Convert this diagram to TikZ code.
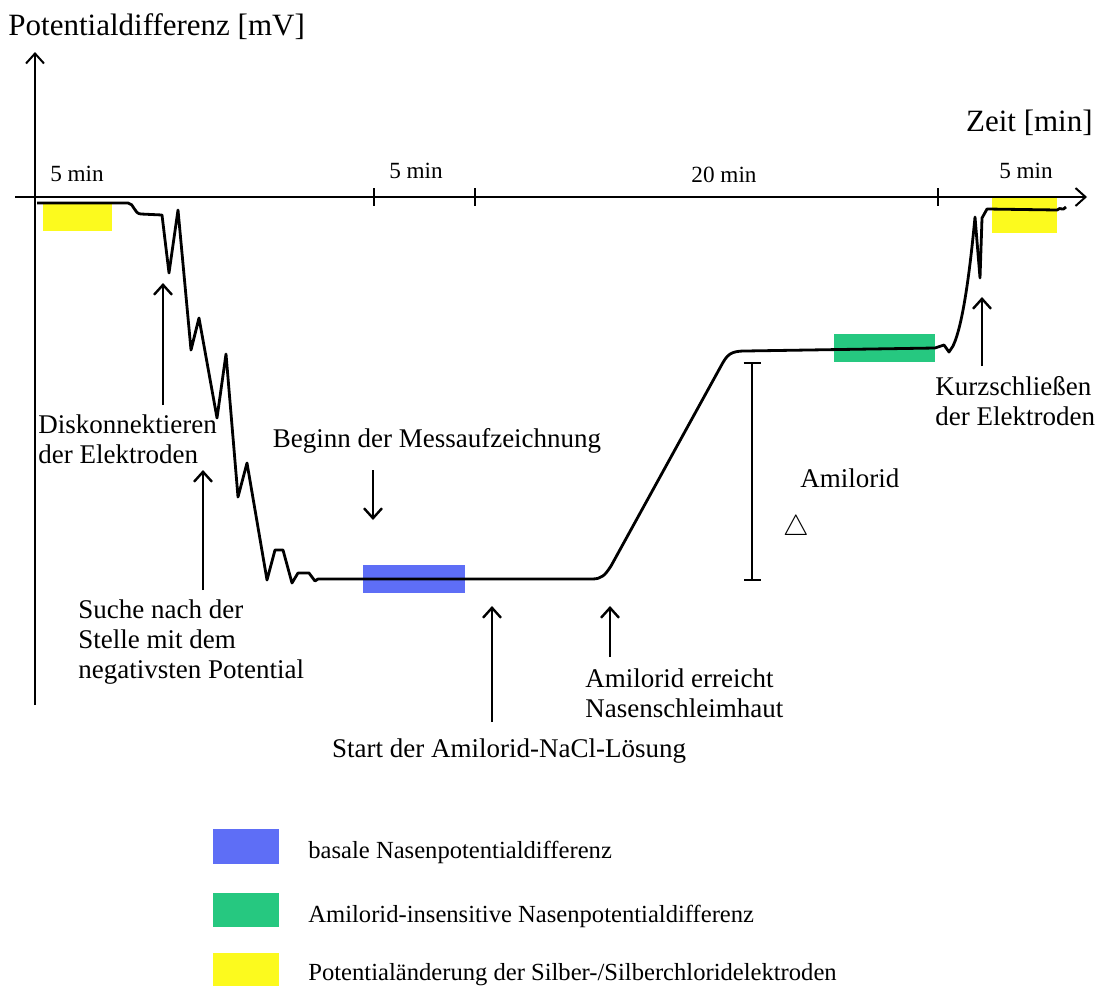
\documentclass[tikz,border=0pt]{standalone}
\usepackage{fontspec}
\setmainfont{Liberation Serif}
\usetikzlibrary{arrows.meta}
\tikzset{>={Straight Barb[width=9pt,length=5pt]}}
\definecolor{basalblue}{RGB}{94,110,246}
\definecolor{insgreen}{RGB}{38,200,128}
\definecolor{agyellow}{RGB}{252,250,30}

\begin{document}
\begin{tikzpicture}[x=0.5pt,y=-0.5pt,
    lbl/.style={inner sep=0pt, font=\fontsize{13.5}{15}\selectfont, align=left},
    ticklbl/.style={inner sep=0pt, anchor=base, font=\fontsize{11.6}{13}\selectfont},
    axlbl/.style={inner sep=0pt, font=\fontsize{15.5}{17}\selectfont},
    leglbl/.style={inner sep=0pt, anchor=base west, font=\fontsize{12.3}{14}\selectfont},
    curve/.style={line width=1.4pt, line join=round},
    marker/.style={->, line width=1.2pt}]

  \useasboundingbox (0,0) rectangle (1101,985);

  %% phases
  \fill[agyellow] (43,203) rectangle (112,231);
  \fill[agyellow] (992,197) rectangle (1057,233);
  \fill[basalblue] (363,565) rectangle (465,593);
  \fill[insgreen] (834,334) rectangle (935,362);

  %% axes
  \coordinate (o) at (35,197);
  \draw[->, line width=1pt] (35,705) -- (35,52) coordinate (ytip);
  \draw[->, line width=1pt] (15,197) -- (1087,197) coordinate (xtip);
  \foreach \t in {374,475,938}
    \draw[line width=1pt] (\t,188) -- (\t,206);

  \node[axlbl, anchor=base west] (ylab) at (8,35) {Potentialdifferenz [mV]};
  \node[axlbl, anchor=base east] (xlab) at (1093,131) {Zeit [min]};

  \node[ticklbl] (t1) at (77,181) {5 min};
  \node[ticklbl] (t2) at (416,178) {5 min};
  \node[ticklbl] (t3) at (724,182) {20 min};
  \node[ticklbl] (t4) at (1026,178) {5 min};

  %% measured potential
  \draw[curve] (37,203) -- (128,203) .. controls (134,203) and (134,214) .. (141,214)
    -- (162,215) -- (169,273) -- (178,210) -- (191,350) -- (199,318)
    -- (217,418) -- (226,354) -- (238,497) -- (247,463) -- (267,580)
    -- (275,550) -- (283,550) -- (292,583) -- (298,573) -- (309,573)
    -- (315,581) -- (318,579) -- (592,579)
    .. controls (602,579) and (605,575) .. (611,566) -- (721,366)
    .. controls (727,355) and (730,351) .. (745,351) -- (935,348)
    -- (944,345) -- (949,352) -- (953,346)
    .. controls (963,325) and (970,270) .. (975,217)
    -- (980,278) -- (982,218) -- (987,209) -- (1057,210)
    .. controls (1061,206) and (1062,212) .. (1066,207);

  %% amiloride difference
  \coordinate (dtop) at (752,362);
  \coordinate (dbot) at (752,581);
  \draw[{Bar[width=8.5pt]}-{Bar[width=8.5pt]}, line width=1.2pt] (dtop) -- (dbot);
  \node[lbl, anchor=base west] (amil) at (800,487) {Amilorid};
  \node[inner sep=0pt, font=\fontsize{14.5}{15}\selectfont] (delta) at (796,528) {$\triangle$};

  %% events
  \node[lbl, anchor=base west] (disk) at (38,463) {Diskonnektieren\\der Elektroden};
  \coordinate (disk-tip) at (163,283);
  \coordinate (disk-tail) at (163,405);
  \draw[marker] (disk-tail) -- (disk-tip);

  \node[lbl, anchor=base west] (suche) at (78,678) {Suche nach der\\Stelle mit dem\\negativsten Potential};
  \coordinate (suche-tip) at (203,470);
  \coordinate (suche-tail) at (203,590);
  \draw[marker] (suche-tail) -- (suche-tip);

  \node[lbl, anchor=base] (beginn) at (437,447) {Beginn der Messaufzeichnung};
  \coordinate (beginn-tail) at (373,470);
  \coordinate (beginn-tip) at (373,520);
  \draw[marker] (beginn-tail) -- (beginn-tip);

  \node[lbl, anchor=base] (start) at (509,757) {Start der Amilorid-NaCl-Lösung};
  \coordinate (start-tip) at (492,606);
  \coordinate (start-tail) at (492,722);
  \draw[marker] (start-tail) -- (start-tip);

  \node[lbl, anchor=base west] (erreicht) at (585,717) {Amilorid erreicht\\Nasenschleimhaut};
  \coordinate (erreicht-tip) at (610,606);
  \coordinate (erreicht-tail) at (610,657);
  \draw[marker] (erreicht-tail) -- (erreicht-tip);

  \node[lbl, anchor=base west] (kurz) at (935,425) {Kurzschließen\\der Elektroden};
  \coordinate (kurz-tip) at (982,297);
  \coordinate (kurz-tail) at (982,366);
  \draw[marker] (kurz-tail) -- (kurz-tip);

  %% legend
  \fill[basalblue] (213,829) rectangle (279,864);
  \node[leglbl] (leg1) at (308,858) {basale Nasenpotentialdifferenz};
  \fill[insgreen] (213,893) rectangle (279,927);
  \node[leglbl] (leg2) at (308,922) {Amilorid-insensitive Nasenpotentialdifferenz};
  \fill[agyellow] (213,953) rectangle (279,987);
  \node[leglbl] (leg3) at (308,980) {Potentialänderung der Silber-/Silberchloridelektroden};

\end{tikzpicture}
\end{document}
